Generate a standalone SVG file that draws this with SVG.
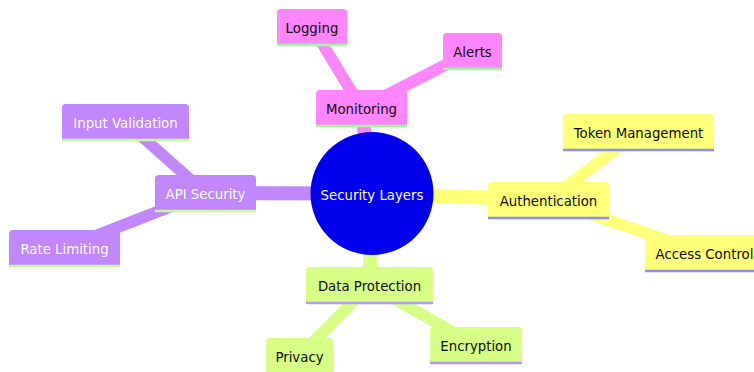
<svg xmlns="http://www.w3.org/2000/svg" width="754" height="372" viewBox="0 0 754 372">
  <style>
    line { stroke-width: 2.5; }
    .edge { fill: none; stroke-linecap: butt; }
    .d0 { stroke-width: 14; }
    .d1 { stroke-width: 11.6; }
    .e-yellow { stroke: #ffff78; }
    .e-green { stroke: #d7ff86; }
    .e-purple { stroke: #c286ff; }
    .e-pink { stroke: #ff86ff; }
    .box { stroke: none; }
    .s-yellow .box { fill: #ffff78; }
    .s-yellow line { stroke: #8c8cf8; }
    .s-green .box { fill: #d7ff86; }
    .s-green line { stroke: #b896fb; }
    .s-purple .box { fill: #c286ff; }
    .s-purple line { stroke: #c8fa96; }
    .s-pink .box { fill: #ff86ff; }
    .s-pink line { stroke: #9cf99c; }
    text { font-family: "DejaVu Sans", Verdana, sans-serif; font-size: 13.3px; text-anchor: middle; dominant-baseline: central; fill: #0a0a0a; }
    .s-purple text, .root text { fill: #ffffff; }
  </style>

  <!-- connectors: straight strokes between node centres, painted under the nodes -->
  <g id="connectors">
    <line class="edge d0 e-pink" x1="372" y1="193.5" x2="361.5" y2="108"/>
    <line class="edge d0 e-yellow" x1="372" y1="193.5" x2="548.5" y2="200"/>
    <line class="edge d0 e-green" x1="372" y1="193.5" x2="369.5" y2="285"/>
    <line class="edge d0 e-purple" x1="372" y1="193.5" x2="205.5" y2="193"/>
    <line class="edge d1 e-pink" x1="361.5" y1="108" x2="312" y2="27"/>
    <line class="edge d1 e-pink" x1="361.5" y1="108" x2="472.5" y2="51"/>
    <line class="edge d1 e-purple" x1="205.5" y1="193" x2="125.5" y2="122"/>
    <line class="edge d1 e-purple" x1="205.5" y1="193" x2="64.5" y2="248"/>
    <line class="edge d1 e-yellow" x1="548.5" y1="200" x2="638.5" y2="132"/>
    <line class="edge d1 e-yellow" x1="548.5" y1="200" x2="704.5" y2="253"/>
    <line class="edge d1 e-green" x1="369.5" y1="285" x2="299.5" y2="356"/>
    <line class="edge d1 e-green" x1="369.5" y1="285" x2="476" y2="345"/>
  </g>

  <!-- root -->
  <g id="security-layers" class="root">
    <circle cx="372" cy="193.5" r="61.5" fill="#0000ec"/>
    <text x="372" y="195">Security Layers</text>
  </g>

  <!-- monitoring branch -->
  <g id="monitoring" class="s-pink" transform="translate(316,90)">
    <path class="box" d="M0,36 V4 Q0,0 4,0 H87 Q91,0 91,4 V36 Z"/>
    <line x1="0" y1="36" x2="91" y2="36"/>
    <text x="45.5" y="19">Monitoring</text>
  </g>
  <g id="logging" class="s-pink" transform="translate(277,9)">
    <path class="box" d="M0,36 V4 Q0,0 4,0 H66 Q70,0 70,4 V36 Z"/>
    <line x1="0" y1="36" x2="70" y2="36"/>
    <text x="35" y="19">Logging</text>
  </g>
  <g id="alerts" class="s-pink" transform="translate(443,33)">
    <path class="box" d="M0,36 V4 Q0,0 4,0 H55 Q59,0 59,4 V36 Z"/>
    <line x1="0" y1="36" x2="59" y2="36"/>
    <text x="29.5" y="19">Alerts</text>
  </g>

  <!-- api security branch -->
  <g id="api-security" class="s-purple" transform="translate(155,175)">
    <path class="box" d="M0,36 V4 Q0,0 4,0 H97 Q101,0 101,4 V36 Z"/>
    <line x1="0" y1="36" x2="101" y2="36"/>
    <text x="50.5" y="19">API Security</text>
  </g>
  <g id="input-validation" class="s-purple" transform="translate(62,104)">
    <path class="box" d="M0,36 V4 Q0,0 4,0 H123 Q127,0 127,4 V36 Z"/>
    <line x1="0" y1="36" x2="127" y2="36"/>
    <text x="63.5" y="19">Input Validation</text>
  </g>
  <g id="rate-limiting" class="s-purple" transform="translate(9,230)">
    <path class="box" d="M0,36 V4 Q0,0 4,0 H107 Q111,0 111,4 V36 Z"/>
    <line x1="0" y1="36" x2="111" y2="36"/>
    <text x="55.5" y="19">Rate Limiting</text>
  </g>

  <!-- authentication branch -->
  <g id="authentication" class="s-yellow" transform="translate(488,182)">
    <path class="box" d="M0,36 V4 Q0,0 4,0 H117 Q121,0 121,4 V36 Z"/>
    <line x1="0" y1="36" x2="121" y2="36"/>
    <text x="60.5" y="19">Authentication</text>
  </g>
  <g id="token-management" class="s-yellow" transform="translate(563,114)">
    <path class="box" d="M0,36 V4 Q0,0 4,0 H147 Q151,0 151,4 V36 Z"/>
    <line x1="0" y1="36" x2="151" y2="36"/>
    <text x="75.5" y="19">Token Management</text>
  </g>
  <g id="access-control" class="s-yellow" transform="translate(645,235)">
    <path class="box" d="M0,36 V4 Q0,0 4,0 H115 Q119,0 119,4 V36 Z"/>
    <line x1="0" y1="36" x2="119" y2="36"/>
    <text x="59.5" y="19">Access Control</text>
  </g>

  <!-- data protection branch -->
  <g id="data-protection" class="s-green" transform="translate(306,267)">
    <path class="box" d="M0,36 V4 Q0,0 4,0 H123 Q127,0 127,4 V36 Z"/>
    <line x1="0" y1="36" x2="127" y2="36"/>
    <text x="63.5" y="19">Data Protection</text>
  </g>
  <g id="privacy" class="s-green" transform="translate(266,338)">
    <path class="box" d="M0,36 V4 Q0,0 4,0 H63 Q67,0 67,4 V36 Z"/>
    <line x1="0" y1="36" x2="67" y2="36"/>
    <text x="33.5" y="19">Privacy</text>
  </g>
  <g id="encryption" class="s-green" transform="translate(430,327)">
    <path class="box" d="M0,36 V4 Q0,0 4,0 H88 Q92,0 92,4 V36 Z"/>
    <line x1="0" y1="36" x2="92" y2="36"/>
    <text x="46" y="19">Encryption</text>
  </g>
</svg>
